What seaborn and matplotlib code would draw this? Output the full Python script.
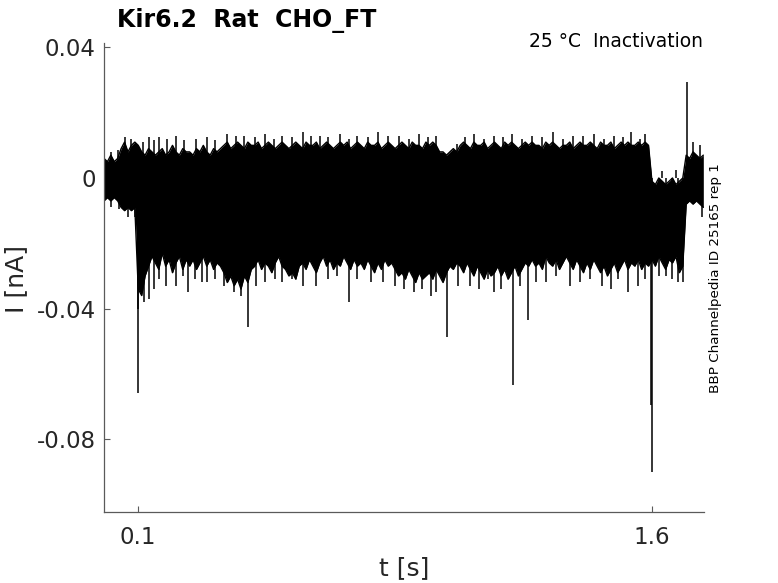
import numpy as np
import pandas as pd
import matplotlib
matplotlib.use('Agg')
import matplotlib.pyplot as plt
import seaborn as sns

# Envelope of the overlaid current traces (pA), one value every 10 ms
upper_pa = [
    6, 5, 7, 5, 6, 9, 11, 8, 10, 11,
    10, 8, 7, 9, 8, 7, 8, 9, 7, 8, 10, 8, 7, 9, 8, 8, 7, 9, 8, 10, 8, 7, 9, 8, 9,
    10, 11, 9, 10, 11, 10, 9, 11, 10, 10,
    11, 9, 10, 11, 10, 9, 10, 11, 10, 9,
    10, 11, 10, 9, 11, 10, 10, 11, 9, 10,
    11, 10, 9, 10, 11, 10, 11, 9, 10, 11,
    10, 9, 11, 10, 10, 11, 9, 10, 11, 10,
    9, 10, 11, 10, 9, 11, 10, 10, 9, 11,
    10, 11, 10, 8, 8, 7, 8, 9, 8, 10,
    11, 10, 9, 11, 10, 10, 11, 9, 10, 11,
    10, 9, 11, 10, 11, 10, 9, 10, 11, 10,
    11, 10, 10, 9, 11, 10, 11, 10, 9, 10,
    10, 11, 9, 10, 11, 10, 10, 11, 10, 9,
    11, 10, 10, 11, 9, 10, 11, 10, 11, 10,
    10, 11, 10, 11, 10,
    -1, -2, 0, -1, -2, -1, 0, -2, -1, 0,
    7, 6, 8, 7, 6, 7,
]
lower_pa = [
    -7, -6, -7, -6, -7, -9, -10, -9, -10, -9,
    -34, -36, -30, -27, -24, -26, -28, -23, -27, -25, -29, -26, -24, -28, -25,
    -27, -25, -28, -26, -24, -27, -25, -28, -26, -27,
    -29, -32, -30, -33, -31, -34, -30, -32, -28, -27,
    -25, -28, -26, -27, -29, -26, -24, -27, -28, -30,
    -29, -31, -27, -26, -28, -25, -27, -29, -26, -24,
    -27, -25, -28, -26, -27, -24, -26, -28, -25, -27,
    -26, -28, -25, -27, -29, -26, -28, -25, -27, -26,
    -28, -30, -29, -31, -28, -30, -32, -29, -31, -30,
    -29, -31, -28, -30, -32, -29, -27, -28, -26, -27,
    -29, -26, -28, -30, -27, -29, -31, -28, -30, -29,
    -27, -30, -28, -31, -29, -27, -30, -28, -26, -27,
    -25, -27, -26, -28, -24, -26, -27, -25, -28, -26,
    -24, -26, -28, -25, -27, -29, -26, -28, -25, -27,
    -29, -27, -30, -28, -26, -29, -27, -25, -28, -26,
    -27, -25, -28, -26, -27,
    -25, -27, -24, -26, -28, -25, -26, -24, -29, -27,
    -8, -7, -8, -7, -8, -9,
]

# single-sample spikes (time in s, tip in pA)
spike_up_t = [0.02, 0.04, 0.06, 0.08, 0.115, 0.13, 0.145, 0.16, 0.185, 0.21, 0.235,
              0.27, 0.30, 0.325, 0.36, 0.385, 0.41, 0.44, 0.47, 0.495, 0.52, 0.55,
              0.58, 0.605, 0.63, 0.655, 0.69, 0.715, 0.74, 0.77, 0.80, 0.83, 0.86,
              0.89, 0.92, 0.945, 0.97, 1.03, 1.055, 1.08, 1.11, 1.14, 1.165, 1.19,
              1.22, 1.25, 1.28, 1.31, 1.34, 1.37, 1.40, 1.43, 1.46, 1.49, 1.515,
              1.54, 1.565, 1.58, 1.63, 1.67, 1.702, 1.72, 1.74]
spike_up_pa = [8, 8.5, 12.5, 12, 11, 12.5, 11.5, 12.5, 12, 13, 11.5,
               12, 12.5, 11.5, 13.5, 13, 13, 12.5, 13.5, 12, 13, 12.5,
               14, 13, 13, 12.5, 13.5, 12, 13, 12.5, 14, 13, 13,
               12, 13.5, 12.5, 13, 10.5, 12.5, 13.5, 12, 13, 12.5, 13.5,
               12, 13, 12.5, 14, 12, 13, 13, 13.5, 12, 13, 12.5,
               14, 12, 13.5, 2, 2.5, 29.4, 11, 10]
spike_dn_t = [0.02, 0.045, 0.07, 0.09, 0.098, 0.100, 0.118, 0.13, 0.145, 0.16, 0.18,
              0.21, 0.23, 0.245, 0.265, 0.285, 0.30, 0.325, 0.35, 0.38, 0.40, 0.421,
              0.445, 0.47, 0.50, 0.52, 0.55, 0.58, 0.62, 0.655, 0.68, 0.716, 0.74,
              0.78, 0.815, 0.85, 0.875, 0.905, 0.93, 0.955, 0.97, 1.002, 1.035, 1.07,
              1.095, 1.12, 1.14, 1.16, 1.194, 1.215, 1.238, 1.26, 1.29, 1.32, 1.36,
              1.39, 1.42, 1.455, 1.48, 1.50, 1.53, 1.56, 1.58, 1.598, 1.600, 1.62,
              1.64, 1.66, 1.675, 1.69, 1.745]
spike_dn_pa = [-9, -9.5, -12, -12, -40, -65.8, -38, -37, -34, -31, -33,
               -33, -30, -35, -31, -32, -32, -31, -33, -35, -36, -45.6,
               -33, -32, -31, -32, -31, -33, -33, -31, -30, -38, -31,
               -32, -32, -33, -34, -35, -34, -36, -35, -48.7, -33, -33,
               -34, -31, -35, -34, -63.4, -33, -43.5, -32, -32, -30, -33,
               -32, -31, -33, -34, -31, -35, -33, -31, -69.5, -90, -30,
               -30, -31, -32, -32, -12]

x_ticks = [0.1, 1.6]
y_ticks = [0.04, 0, -0.04, -0.08]
y_tick_labels = ['0.04', '0', '-0.04', '-0.08']

t = np.round(np.arange(len(upper_pa)) * 0.01, 2)
df = pd.DataFrame({'t': t,
                   'upper': np.array(upper_pa) / 1000.0,
                   'lower': np.array(lower_pa) / 1000.0})

sns.set_style('white')
plt.rcParams['font.family'] = ['DejaVu Sans']

fig = plt.figure(figsize=(7.78, 5.83), dpi=100)
ax = fig.add_axes([104 / 778, 1 - 512 / 583, 600 / 778, 469 / 583])

ax.fill_between(df['t'], df['lower'], df['upper'], color='black', lw=0)
sns.lineplot(data=df, x='t', y='upper', color='black', lw=1.0, estimator=None, ax=ax)
sns.lineplot(data=df, x='t', y='lower', color='black', lw=1.0, estimator=None, ax=ax)
ax.vlines(spike_up_t, 0, np.array(spike_up_pa) / 1000.0, color='black', lw=1.1)
ax.vlines(spike_dn_t, 0, np.array(spike_dn_pa) / 1000.0, color='black', lw=1.1)

ax.set_xlim(0, 1.752)
ax.set_ylim(-0.1023, 0.04135)
ax.set_xticks(x_ticks)
ax.set_xticklabels([str(v) for v in x_ticks])
ax.set_yticks(y_ticks)
ax.set_yticklabels(y_tick_labels)

grey = '#262626'
for side in ['top', 'right']:
    ax.spines[side].set_visible(False)
for side in ['left', 'bottom']:
    ax.spines[side].set_color('#5a5a5a')
    ax.spines[side].set_linewidth(0.9)
ax.tick_params(axis='both', direction='in', length=4, width=0.8, color='#5a5a5a',
               labelsize=16.5, labelcolor=grey, bottom=True, left=True)
ax.tick_params(axis='x', pad=10)
ax.tick_params(axis='y', pad=6)

ax.set_xlabel('t [s]', fontsize=18, color=grey, va='center')
ax.xaxis.set_label_coords(0.4996, (512 - 568) / 469)
ax.set_ylabel('I [nA]', fontsize=18, color=grey, va='center')
ax.yaxis.set_label_coords((16 - 104) / 600, (512 - 279) / 469)

fig.text(117 / 778, 1 - 27 / 583, 'Kir6.2  Rat  CHO_FT', fontsize=17,
         fontweight='bold', ha='left', va='baseline', color='black')
fig.text(703 / 778, 1 - 47 / 583, '25 °C  Inactivation', fontsize=13.5,
         ha='right', va='baseline', color='black')
fig.text(716 / 778, 1 - 278 / 583, 'BBP Channelpedia ID 25165 rep 1', fontsize=9.7,
         rotation=90, ha='center', va='center', color='black')

fig.savefig('out.png', dpi=100)
plt.close(fig)
